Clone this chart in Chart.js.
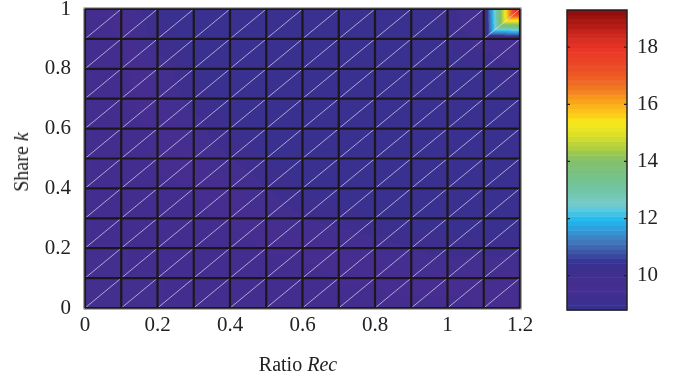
<!DOCTYPE html>
<html>
<head>
<meta charset="utf-8">
<script src="https://cdn.jsdelivr.net/npm/chart.js@4/dist/chart.umd.min.js"></script>
<style>
  html, body { margin: 0; padding: 0; background: #fff; }
  #wrap { position: relative; width: 688px; height: 379px; font-family: "Liberation Serif", serif; color: #222; }
  #main { position: absolute; left: 0; top: 0; width: 540px; height: 379px; }
  #cb { position: absolute; left: 540px; top: 0; width: 148px; height: 379px; }
  .title { position: absolute; font-size: 20px; white-space: nowrap; line-height: 1; }
  #xtitle { left: 298px; top: 364px; transform: translate(-50%, -50%); }
  #ytitle { left: 21px; top: 162px; transform: translate(-50%, -50%) rotate(-90deg); }
</style>
</head>
<body>
<div id="wrap">
  <div id="main"><canvas id="surface"></canvas></div>
  <div id="cb"><canvas id="colorbar"></canvas></div>
  <div class="title" id="xtitle">Ratio <i>Rec</i></div>
  <div class="title" id="ytitle">Share <i>k</i></div>
</div>
<script>
// grid nodes
const xNodes = [0, 0.1, 0.2, 0.3, 0.4, 0.5, 0.6, 0.7, 0.8, 0.9, 1.0, 1.1, 1.2];
const yNodes = [0, 0.1, 0.2, 0.3, 0.4, 0.5, 0.6, 0.7, 0.8, 0.9, 1.0];

// node values, one row per y node (bottom to top)
const row00 = [9.8, 9.8, 9.8, 9.8, 9.8, 9.8, 9.7, 9.7, 9.7, 9.7, 9.7, 9.6, 9.6];
const row01 = [9.8, 9.8, 9.8, 9.7, 9.7, 9.7, 9.7, 9.6, 9.6, 9.5, 9.5, 9.5, 9.5];
const row02 = [9.8, 9.8, 9.7, 9.7, 9.7, 9.6, 9.6, 9.5, 9.4, 9.3, 9.2, 9.2, 9.2];
const row03 = [9.8, 9.7, 9.7, 9.7, 9.6, 9.5, 9.3, 9.2, 9.1, 9.0, 9.0, 9.0, 9.0];
const row04 = [9.8, 9.7, 9.7, 9.6, 9.5, 9.3, 9.1, 9.0, 9.0, 9.0, 9.0, 9.0, 9.0];
const row05 = [9.8, 9.7, 9.6, 9.5, 9.3, 9.1, 9.0, 9.0, 9.0, 9.0, 9.0, 9.0, 9.0];
const row06 = [9.8, 9.7, 9.6, 9.4, 9.1, 9.0, 9.0, 9.0, 9.0, 9.0, 9.0, 9.0, 9.0];
const row07 = [9.8, 9.7, 9.5, 9.2, 9.0, 9.0, 9.0, 9.0, 9.0, 9.0, 9.0, 9.0, 9.1];
const row08 = [9.8, 9.7, 9.4, 9.1, 9.0, 9.0, 9.0, 9.0, 9.0, 9.0, 9.0, 9.1, 9.3];
const row09 = [9.8, 9.6, 9.2, 9.0, 9.0, 9.0, 9.0, 9.0, 9.0, 9.0, 9.1, 9.4, 9.6];
const row10 = [9.8, 9.5, 9.1, 9.0, 9.0, 9.0, 9.0, 9.0, 9.0, 9.0, 9.2, 9.6, 19.2];
const zRows = [row00, row01, row02, row03, row04, row05, row06, row07, row08, row09, row10];

// tick labels
const xTicks = [0, 0.2, 0.4, 0.6, 0.8, 1, 1.2];
const yTicks = [0, 0.2, 0.4, 0.6, 0.8, 1];
const cbTicks = [10, 12, 14, 16, 18];
const cbMin = 8.8;
const cbMax = 19.3;

// colormap stops (value, colour)
const cmapVals = [8.8, 9.1, 9.5, 10.0, 10.3, 10.5, 10.8, 11.1, 11.4, 11.7, 12.0, 12.3, 12.6, 13.0, 13.5, 14.0, 14.3, 14.6, 15.0, 15.4, 15.7, 16.0, 16.2, 16.5, 17.0, 17.5, 18.0, 18.4, 18.7, 19.0, 19.3];
const cmapCols = ['#33328f', '#3b308f', '#452e8f', '#412f8e', '#392f8e', '#383598', '#3c52a3', '#4070b8', '#3e88c8', '#2aa4e0', '#22bcee', '#5cc8e0', '#77cbc4', '#70c5a5', '#77c288', '#82c06c', '#9cc852', '#bcd43a', '#e2e226', '#f7e61a', '#fcc817', '#fbb019', '#f89b1c', '#f37e21', '#ee5a25', '#ec4426', '#e83327', '#d02a20', '#b81d17', '#a0150f', '#8a0c0c'];
const nBands = 64;

function hexRgb(h) {
  return [parseInt(h.slice(1, 3), 16), parseInt(h.slice(3, 5), 16), parseInt(h.slice(5, 7), 16)];
}

function cmapAt(v) {
  let k = 0;
  while (k < cmapVals.length - 2 && v > cmapVals[k + 1]) k++;
  const t = Math.min(1, Math.max(0, (v - cmapVals[k]) / (cmapVals[k + 1] - cmapVals[k])));
  const a = hexRgb(cmapCols[k]), b = hexRgb(cmapCols[k + 1]);
  return a.map((c, i) => Math.round(c + (b[i] - c) * t));
}

const bands = [];
for (let k = 0; k < nBands; k++) {
  bands.push(cmapAt(cbMin + (k + 0.5) * (cbMax - cbMin) / nBands));
}

function bandOf(z) {
  let k = Math.floor((z - cbMin) / (cbMax - cbMin) * nBands);
  return bands[Math.max(0, Math.min(nBands - 1, k))];
}

function cellIndex(nodes, v) {
  let i = 0;
  while (i < nodes.length - 2 && v > nodes[i + 1]) i++;
  return i;
}

// linear interpolation on triangles split along the bottom-left/top-right diagonal
function valueAt(vx, vy) {
  const i = cellIndex(xNodes, vx), j = cellIndex(yNodes, vy);
  const u = Math.min(1, Math.max(0, (vx - xNodes[i]) / (xNodes[i + 1] - xNodes[i])));
  const v = Math.min(1, Math.max(0, (vy - yNodes[j]) / (yNodes[j + 1] - yNodes[j])));
  const A = zRows[j][i], D = zRows[j][i + 1], B = zRows[j + 1][i], C = zRows[j + 1][i + 1];
  if (v >= u) return A + (C - B) * u + (B - A) * v;
  return A + (D - A) * u + (C - D) * v;
}

const surfacePlugin = {
  id: 'surface',
  beforeDatasetsDraw(chart) {
    const { ctx, chartArea: a, scales: { x, y } } = chart;
    const w = Math.round(a.right - a.left), h = Math.round(a.bottom - a.top);
    const off = document.createElement('canvas');
    off.width = w; off.height = h;
    const octx = off.getContext('2d');
    const img = octx.createImageData(w, h);
    for (let py = 0; py < h; py++) {
      const vy = y.getValueForPixel(a.top + py + 0.5);
      for (let px = 0; px < w; px++) {
        const vx = x.getValueForPixel(a.left + px + 0.5);
        const c = bandOf(valueAt(vx, vy));
        const o = (py * w + px) * 4;
        img.data[o] = c[0]; img.data[o + 1] = c[1]; img.data[o + 2] = c[2]; img.data[o + 3] = 255;
      }
    }
    octx.putImageData(img, 0, 0);
    ctx.save();
    ctx.drawImage(off, a.left, a.top);

    // white diagonals
    ctx.strokeStyle = 'rgba(235,235,255,0.8)';
    ctx.lineWidth = 0.8;
    ctx.beginPath();
    for (let i = 0; i < xNodes.length - 1; i++) {
      for (let j = 0; j < yNodes.length - 1; j++) {
        ctx.moveTo(x.getPixelForValue(xNodes[i]), y.getPixelForValue(yNodes[j]));
        ctx.lineTo(x.getPixelForValue(xNodes[i + 1]), y.getPixelForValue(yNodes[j + 1]));
      }
    }
    ctx.stroke();

    // black cell edges
    ctx.strokeStyle = '#1c181a';
    ctx.lineWidth = 2.2;
    ctx.beginPath();
    xNodes.forEach(v => {
      const px = x.getPixelForValue(v);
      ctx.moveTo(px, a.top); ctx.lineTo(px, a.bottom);
    });
    yNodes.forEach(v => {
      const py = y.getPixelForValue(v);
      ctx.moveTo(a.left, py); ctx.lineTo(a.right, py);
    });
    ctx.stroke();

    ctx.strokeStyle = '#666';
    ctx.lineWidth = 1;
    ctx.strokeRect(a.left - 1, a.top - 1, a.right - a.left + 2, a.bottom - a.top + 2);
    ctx.restore();
  }
};

const tickFont = { family: '"Liberation Serif", serif', size: 21 };

new Chart(document.getElementById('surface'), {
  type: 'scatter',
  data: { datasets: [] },
  options: {
    responsive: true,
    maintainAspectRatio: false,
    animation: false,
    layout: { padding: { top: 9, right: 20, left: 0, bottom: 0 } },
    plugins: { legend: { display: false }, tooltip: { enabled: false } },
    scales: {
      x: {
        type: 'linear', min: 0, max: 1.2,
        grid: { display: false, drawTicks: false },
        border: { display: false },
        ticks: { color: '#222', font: tickFont, padding: 5, maxRotation: 0, callback: v => String(v) },
        afterBuildTicks: s => { s.ticks = xTicks.map(v => ({ value: v })); },
        afterFit: s => { s.height = 71; s.paddingLeft = 0; s.paddingRight = 0; }
      },
      y: {
        type: 'linear', min: 0, max: 1,
        grid: { display: false, drawTicks: false },
        border: { display: false },
        ticks: { color: '#222', font: tickFont, padding: 14, callback: v => String(v) },
        afterBuildTicks: s => { s.ticks = yTicks.map(v => ({ value: v })); },
        afterFit: s => { s.width = 85; s.paddingTop = 0; s.paddingBottom = 0; }
      }
    }
  },
  plugins: [surfacePlugin]
});

const colorbarPlugin = {
  id: 'colorbar',
  beforeDatasetsDraw(chart) {
    const { ctx, chartArea: a, scales: { y } } = chart;
    ctx.save();
    for (let k = 0; k < nBands; k++) {
      const v0 = cbMin + k * (cbMax - cbMin) / nBands;
      const v1 = cbMin + (k + 1) * (cbMax - cbMin) / nBands;
      const y0 = y.getPixelForValue(v0), y1 = y.getPixelForValue(v1);
      const c = bands[k];
      ctx.fillStyle = `rgb(${c[0]},${c[1]},${c[2]})`;
      ctx.fillRect(a.left, y1, a.right - a.left, y0 - y1 + 0.5);
    }
    ctx.strokeStyle = '#222';
    ctx.lineWidth = 1.5;
    ctx.strokeRect(a.left, a.top, a.right - a.left, a.bottom - a.top);
    ctx.lineWidth = 1.2;
    ctx.beginPath();
    cbTicks.forEach(v => {
      const py = y.getPixelForValue(v);
      ctx.moveTo(a.left, py); ctx.lineTo(a.left + 3, py);
      ctx.moveTo(a.right, py); ctx.lineTo(a.right - 3, py);
    });
    ctx.stroke();
    ctx.restore();
  }
};

new Chart(document.getElementById('colorbar'), {
  type: 'scatter',
  data: { datasets: [] },
  options: {
    responsive: true,
    maintainAspectRatio: false,
    animation: false,
    layout: { padding: { top: 10, right: 0, left: 27, bottom: 69 } },
    plugins: { legend: { display: false }, tooltip: { enabled: false } },
    scales: {
      x: { type: 'linear', min: 0, max: 1, display: false },
      y: {
        type: 'linear', position: 'right', min: cbMin, max: cbMax,
        grid: { display: false, drawTicks: false },
        border: { display: false },
        ticks: { color: '#222', font: tickFont, padding: 10 },
        afterBuildTicks: s => { s.ticks = cbTicks.map(v => ({ value: v })); },
        afterFit: s => { s.width = 61; s.paddingTop = 0; s.paddingBottom = 0; }
      }
    }
  },
  plugins: [colorbarPlugin]
});
</script>
</body>
</html>
